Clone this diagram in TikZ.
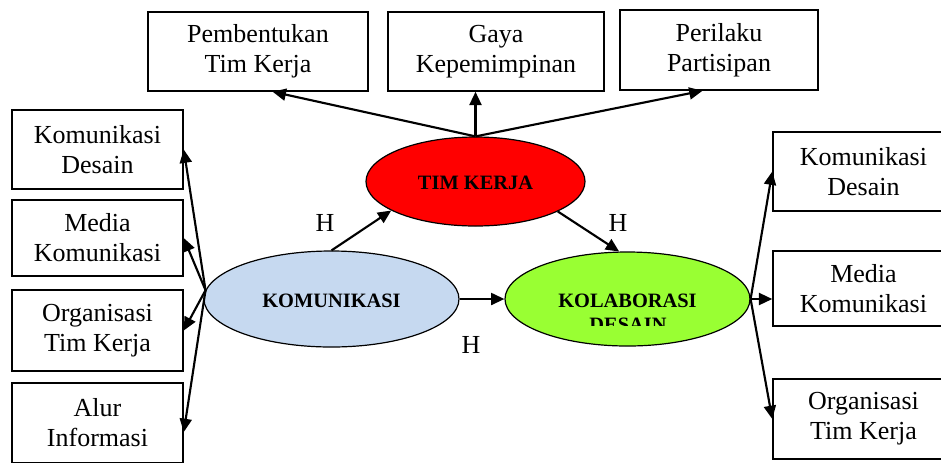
\documentclass[tikz,border=0pt]{standalone}
\usepackage{fontspec}
\setmainfont{Liberation Serif}
\usetikzlibrary{shapes.geometric,arrows.meta}
\definecolor{komublue}{RGB}{198,217,240}
\definecolor{kolabgreen}{RGB}{153,255,51}
\begin{document}
\begin{tikzpicture}[x=0.75pt,y=-0.75pt,
  kotak/.style={draw,line width=1.1pt,align=center,inner sep=0pt,font=\fontsize{19.5}{22.5}\selectfont},
  oval/.style={draw,ellipse,line width=0.9pt,inner sep=0pt,text height=12.5pt,text depth=0pt,font=\bfseries\fontsize{15.3}{17.5}\selectfont},
  panah/.style={line width=1.6pt,-{Triangle[length=10pt,width=9pt]}},
  huruf/.style={font=\fontsize{19.5}{22.5}\selectfont}]
\useasboundingbox (0,0) rectangle (941,462);
\clip (0,0) rectangle (941,462);
% kotak atas
\node[kotak,minimum width=165pt,minimum height=59.25pt] (pemb) at (258,51.5) {Pembentukan\\Tim Kerja};
\node[kotak,minimum width=162pt,minimum height=59.25pt] (gaya) at (496,51.5) {Gaya\\Kepemimpinan};
\node[kotak,minimum width=148.5pt,minimum height=60pt] (peri) at (719,50) {Perilaku\\Partisipan};
% kotak kiri
\node[kotak,minimum width=128.25pt,minimum height=59.25pt] (kiri1) at (97.5,149.5) {Komunikasi\\Desain};
\node[kotak,minimum width=128.25pt,minimum height=57pt] (kiri2) at (97.5,238) {Media\\Komunikasi};
\node[kotak,minimum width=128.25pt,minimum height=60.75pt] (kiri3) at (97.5,330.5) {Organisasi\\Tim Kerja};
\node[kotak,minimum width=128.25pt,minimum height=60pt] (kiri4) at (97.5,423) {Alur\\Informasi};
% kotak kanan
\node[kotak,minimum width=135.75pt,minimum height=59.25pt] (kanan1) at (863.5,171.5) {Komunikasi\\Desain};
\node[kotak,minimum width=135.75pt,minimum height=56.25pt] (kanan2) at (863.5,288.5) {Media\\Komunikasi};
\node[kotak,minimum width=135.75pt,minimum height=60pt] (kanan3) at (863.5,419) {Organisasi\\Tim Kerja};
% elips
\node[oval,fill=red,minimum width=164.25pt,minimum height=66.75pt] (tim) at (475.5,181.5) {TIM KERJA};
\node[oval,fill=komublue,minimum width=191.25pt,minimum height=72pt] (komu) at (331.5,299) {KOMUNIKASI};
\node[oval,fill=kolabgreen,minimum width=183.75pt,minimum height=70.5pt] (kolab) at (627.5,299) {KOLABORASI};
\begin{scope}
\clip (505,252) rectangle (750,325);
\node[oval,draw=none,anchor=base] (desain) at (628,331) {DESAIN};
\end{scope}
% panah
\draw[panah] (tim.north) -- (pemb.-70);
\draw[panah] (tim.north) -- (gaya.south -| tim.north);
\draw[panah] (tim.north) -- (peri.-112);
\draw[panah] (komu.north) -- (tim.199);
\draw[panah] (tim.-20) -- (kolab.100);
\draw[panah] (komu.east) -- (kolab.west);
\draw[panah] (komu.176) -- (kiri1.east);
\draw[panah] (komu.176) -- (kiri2.east);
\draw[panah] (komu.176) -- (kiri3.east);
\draw[panah] (komu.176) -- (kiri4.-6);
\draw[panah] (kolab.east) -- (kanan1.west);
\draw[panah] (kolab.east) -- (kanan2.west |- kolab.east);
\draw[panah] (kolab.east) -- (kanan3.west);
% label H
\node[huruf] (h1) at (325,223) {H};
\node[huruf] (h2) at (618,223) {H};
\node[huruf] (h3) at (471,345) {H};
\end{tikzpicture}
\end{document}
